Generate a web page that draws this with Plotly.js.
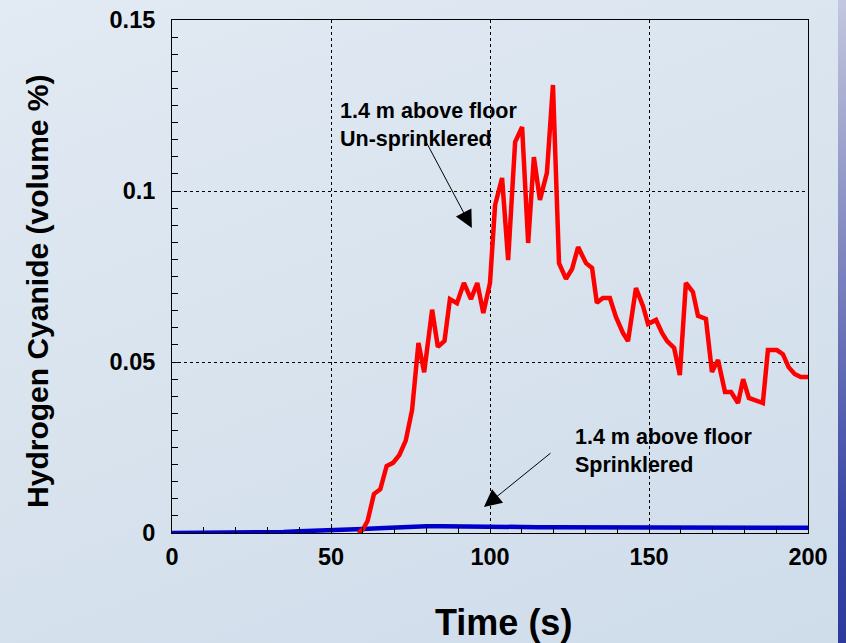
<!DOCTYPE html>
<html>
<head>
<meta charset="utf-8">
<script src="https://cdn.plot.ly/plotly-3.0.1.min.js"></script>
<style>
html, body { margin:0; padding:0; width:846px; height:643px; overflow:hidden; }
body { background: linear-gradient(160deg, #e2eaf3 0%, #d8e3ee 50%, #cfdcea 100%); position:relative; }
#stripe { position:absolute; left:838px; top:0; width:8px; height:643px;
  background: linear-gradient(180deg, #c3c7de 0%, #7f86bf 40%, #3b47a6 80%, #2d3a9c 100%); }
#chart { position:absolute; left:0; top:0; width:846px; height:643px; }
</style>
</head>
<body>
<div id="chart"></div>
<div id="stripe"></div>
<script>
// Un-sprinklered (red)
const unsprinklered_t = [58.5,60,61.5,63.5,65.5,67.5,69.5,71.5,73.5,75.5,77.5,79.3,81.8,83.6,85.7,87.4,89.6,91.8,94,96,97.9,100,101.6,103.8,105.7,107.9,110.1,112,113.8,115.7,117.9,119.8,121.7,123.9,125.8,127.7,130.2,132.1,133.6,135.5,137.7,139.6,141.8,143.4,145.9,148.1,149.7,152.2,154.1,155.7,157.9,159.7,161.6,163.8,165.4,167.9,169.8,171.7,173.9,175.8,178,179.6,181.4,183.3,185.8,187.4,190.2,192.1,193.9,195.8,197.7,200];
const unsprinklered_hcn = [0,0.001,0.0035,0.0114,0.0128,0.0196,0.0205,0.0228,0.027,0.036,0.0556,0.047,0.0653,0.0544,0.0562,0.0684,0.0672,0.0731,0.0684,0.0731,0.0643,0.0731,0.0959,0.1038,0.0798,0.1143,0.1187,0.0848,0.1099,0.0974,0.1053,0.1310,0.0789,0.0743,0.0772,0.0836,0.0789,0.0775,0.0673,0.0687,0.0687,0.0632,0.0585,0.0561,0.0716,0.0664,0.0611,0.0623,0.0585,0.0561,0.0541,0.0462,0.0731,0.0705,0.0635,0.0626,0.0471,0.0506,0.0412,0.0412,0.0380,0.0450,0.0395,0.0389,0.0380,0.0535,0.0535,0.0523,0.0485,0.0465,0.0456,0.0456];
// Sprinklered (blue)
const sprinklered_t = [0,5,10,15,20,25,30,35,40,45,50,55,60,65,70,75,80,85,90,95,100,105,110,115,120,125,130,135,140,145,150,155,160,165,170,175,180,185,190,195,200];
const sprinklered_hcn = [0,0,0,0,0,0,0.0001,0.0003,0.0005,0.0006,0.0007,0.0009,0.0012,0.0014,0.0017,0.0019,0.002,0.002,0.0019,0.0019,0.0018,0.0018,0.0017,0.0017,0.0017,0.0017,0.0017,0.0017,0.0017,0.0017,0.0016,0.0016,0.0015,0.0015,0.0015,0.0015,0.0016,0.0015,0.0015,0.0015,0.0015];
const xTickVals = [0,50,100,150,200];
const xTickText = ['0','50','100','150','200'];
const yTickVals = [0,0.05,0.1,0.15];
const yTickText = ['0','0.05','0.1','0.15'];
const xTitle = 'Time (s)';
const yTitle = 'Hydrogen Cyanide (volume %)';
const label1 = '1.4 m above floor<br>Un-sprinklered';
const label2 = '1.4 m above floor<br>Sprinklered';

const FONT = 'Liberation Sans, Arial, sans-serif';
const traces = [
  {x: sprinklered_t, y: sprinklered_hcn, mode:'lines', line:{color:'#0000cc', width:4.5}, hoverinfo:'skip'},
  {x: unsprinklered_t, y: unsprinklered_hcn, mode:'lines', line:{color:'#ff0000', width:4.5}, hoverinfo:'skip'}
];
const axisCommon = {
  showline:true, linecolor:'#000', linewidth:1, mirror:true,
  ticks:'inside', ticklen:6, tickcolor:'#000',
  showgrid:true, gridcolor:'#000', griddash:'dot', gridwidth:1,
  zeroline:false, automargin:false,
  tickfont:{family:FONT, size:23.5, color:'#000', weight:'bold'}
};
const layout = {
  width:846, height:643,
  margin:{l:172, r:38, t:20, b:110},
  paper_bgcolor:'rgba(0,0,0,0)', plot_bgcolor:'rgba(0,0,0,0)',
  showlegend:false,
  xaxis: Object.assign({}, axisCommon, {
    range:[0,200], tickmode:'array', tickvals:xTickVals, ticktext:xTickText,
    minor:{dtick:10, ticks:'inside', ticklen:6, tickcolor:'#000', showgrid:false},
    ticklabelstandoff:3
  }),
  yaxis: Object.assign({}, axisCommon, {
    range:[0,0.15], tickmode:'array', tickvals:yTickVals, ticktext:yTickText,
    minor:{dtick:0.005, tick0:0, ticks:'inside', ticklen:6, tickcolor:'#000', showgrid:false},
    ticklabelstandoff:11
  }),
  annotations:[
    {xref:'paper', yref:'paper', x:0.522, y:0, yshift:-89, text:xTitle, showarrow:false, xanchor:'center', yanchor:'middle',
     font:{family:FONT, size:36, color:'#000', weight:'bold'}},
    {xref:'paper', yref:'paper', x:0, xshift:-134, y:0.47, text:yTitle, textangle:-90, showarrow:false, xanchor:'center', yanchor:'middle',
     font:{family:FONT, size:30, color:'#000', weight:'bold'}},
    {x:52.2, y:0.1194, xref:'x', yref:'y', text:label1, showarrow:false, xanchor:'left', yanchor:'middle', align:'left',
     font:{family:FONT, size:21.5, color:'#000', weight:'bold'}},
    {x:126.2, y:0.024, xref:'x', yref:'y', text:label2, showarrow:false, xanchor:'left', yanchor:'middle', align:'left',
     font:{family:FONT, size:21.5, color:'#000', weight:'bold'}},
    {x:94.3, y:0.0892, xref:'x', yref:'y', ax:79.6, ay:0.1149, axref:'x', ayref:'y', text:'', showarrow:true,
     arrowhead:2, arrowsize:3.5, arrowwidth:1, arrowcolor:'#000'},
    {x:98.1, y:0.0076, xref:'x', yref:'y', ax:119.5, ay:0.0237, axref:'x', ayref:'y', text:'', showarrow:true,
     arrowhead:2, arrowsize:3.5, arrowwidth:1, arrowcolor:'#000'}
  ]
};
Plotly.newPlot('chart', traces, layout, {staticPlot:true, displayModeBar:false});
</script>
</body>
</html>
